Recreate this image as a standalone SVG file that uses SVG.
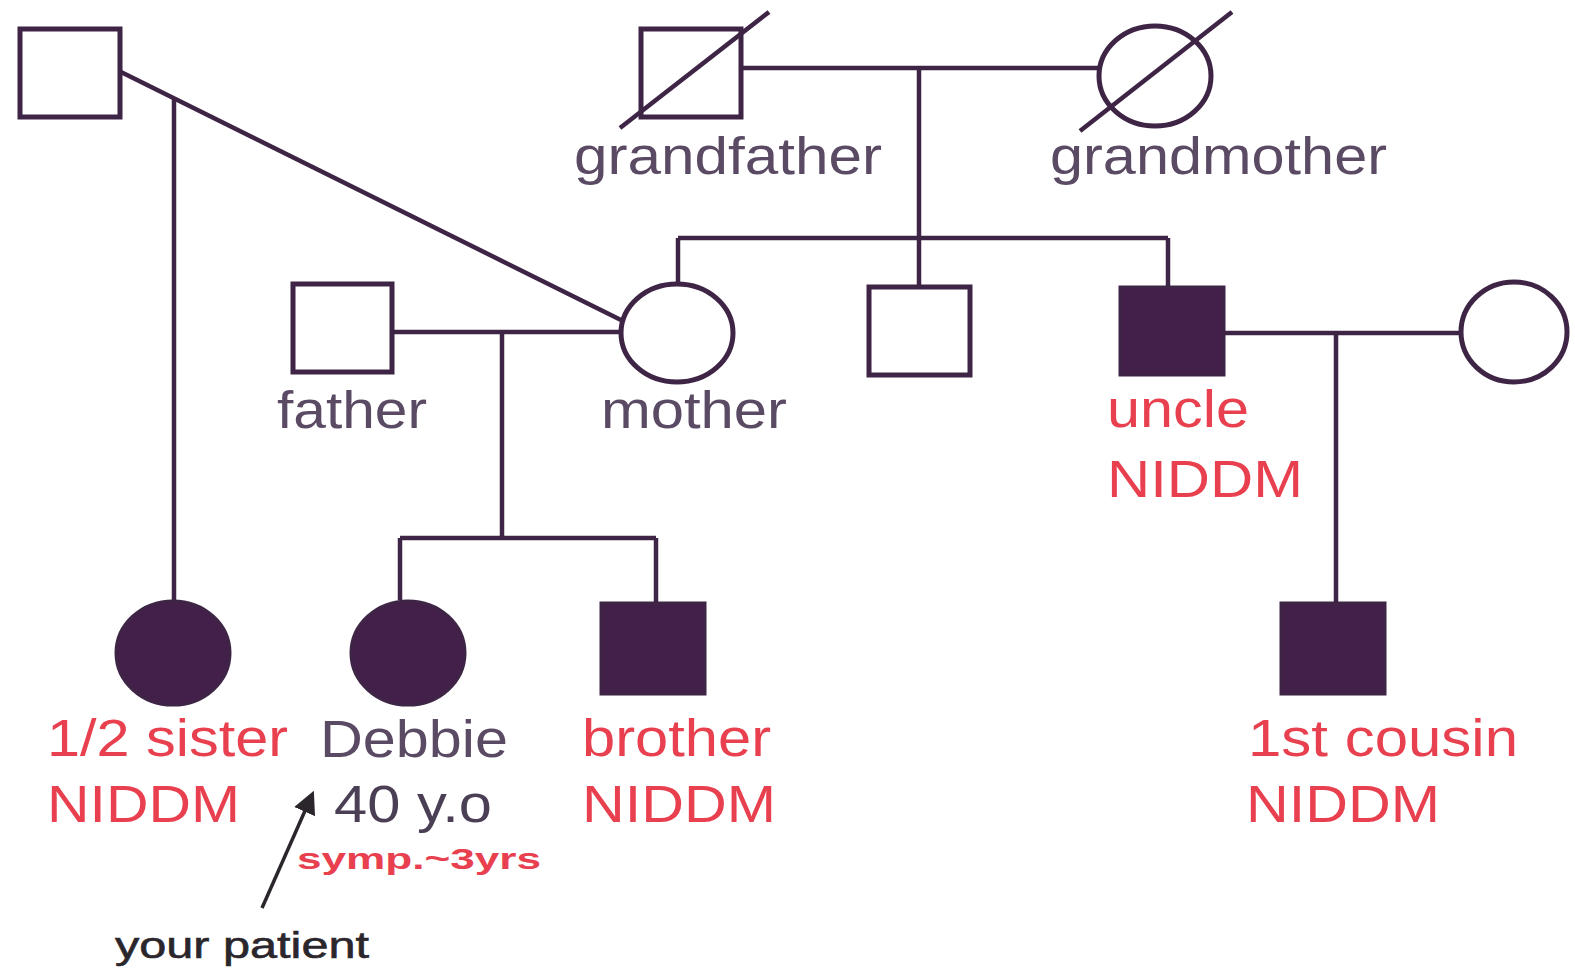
<svg xmlns="http://www.w3.org/2000/svg" width="1575" height="973" viewBox="0 0 1575 973">
  <style>
    .ln { stroke: #3e2445; stroke-width: 4.5; fill: none; stroke-linecap: butt; }
    .open { fill: #ffffff; stroke: #3e2445; stroke-width: 5; }
    .aff { fill: #43204a; stroke: #3e2445; stroke-width: 3; }
    .lbl { font-family: "Liberation Sans", Arial, sans-serif; font-size: 51px; }
    .gray { fill: #5a4a63; }
    .red { fill: #e8404f; }
    .small { font-family: "Liberation Sans", Arial, sans-serif; font-size: 30px; font-weight: bold; }
    .note { font-family: "Liberation Sans", Arial, sans-serif; font-size: 37px; fill: #2a262c; stroke: #2a262c; stroke-width: 0.6; }
  </style>
  <defs>
    <marker id="arrowhead" viewBox="0 0 10 10" refX="8" refY="5" markerWidth="6.5" markerHeight="6.5" orient="auto" markerUnits="strokeWidth">
      <path d="M0,0 L10,5 L0,10 z" fill="#2a262c"/>
    </marker>
  </defs>
  <rect width="1575" height="973" fill="#ffffff"/>

  <!-- connectors -->
  <g id="connectors" class="ln">
    <!-- grandparents couple line and descent -->
    <line x1="742" y1="68" x2="1098" y2="68"/>
    <line x1="919" y1="68" x2="919" y2="287"/>
    <line x1="678" y1="238" x2="1168" y2="238"/>
    <line x1="678" y1="238" x2="678" y2="283"/>
    <line x1="1168" y1="238" x2="1168" y2="287"/>
    <!-- first partner of mother -->
    <line x1="121" y1="72" x2="621" y2="320"/>
    <line x1="174" y1="97" x2="174" y2="600"/>
    <!-- father and mother -->
    <line x1="393" y1="332" x2="621" y2="332"/>
    <line x1="502" y1="332" x2="502" y2="538"/>
    <line x1="400" y1="538" x2="656" y2="538"/>
    <line x1="400" y1="538" x2="400" y2="600"/>
    <line x1="656" y1="538" x2="656" y2="603"/>
    <!-- uncle and wife -->
    <line x1="1225" y1="333" x2="1461" y2="333"/>
    <line x1="1336" y1="333" x2="1336" y2="602"/>
  </g>

  <!-- generation I -->
  <g id="grandfather">
    <rect class="open" x="641" y="29" width="100" height="88"/>
    <line class="ln" x1="620" y1="128" x2="769" y2="12"/>
    <text class="lbl gray" x="574" y="174" textLength="308" lengthAdjust="spacingAndGlyphs">grandfather</text>
  </g>
  <g id="grandmother">
    <ellipse class="open" cx="1155" cy="76" rx="56" ry="50"/>
    <line class="ln" x1="1080" y1="131" x2="1232" y2="12"/>
    <text class="lbl gray" x="1050" y="174" textLength="337" lengthAdjust="spacingAndGlyphs">grandmother</text>
  </g>

  <!-- generation II -->
  <g id="first-partner">
    <rect class="open" x="20" y="29" width="100" height="88"/>
  </g>
  <g id="father">
    <rect class="open" x="293" y="284" width="99" height="88"/>
    <text class="lbl gray" x="277" y="428" textLength="150" lengthAdjust="spacingAndGlyphs">father</text>
  </g>
  <g id="mother">
    <ellipse class="open" cx="677" cy="333" rx="56" ry="49"/>
    <text class="lbl gray" x="601" y="428" textLength="186" lengthAdjust="spacingAndGlyphs">mother</text>
  </g>
  <g id="middle-son">
    <rect class="open" x="869" y="287" width="101" height="88"/>
  </g>
  <g id="uncle">
    <rect class="aff" x="1120" y="287" width="104" height="88"/>
    <text class="lbl red" x="1107" y="427" textLength="142" lengthAdjust="spacingAndGlyphs">uncle</text>
    <text class="lbl red" x="1107" y="497" textLength="196" lengthAdjust="spacingAndGlyphs">NIDDM</text>
  </g>
  <g id="uncle-wife">
    <ellipse class="open" cx="1514" cy="332" rx="53" ry="50"/>
  </g>

  <!-- generation III -->
  <g id="half-sister">
    <ellipse class="aff" cx="173" cy="653" rx="57" ry="52"/>
    <text class="lbl red" x="47" y="756" textLength="241" lengthAdjust="spacingAndGlyphs">1/2 sister</text>
    <text class="lbl red" x="47" y="822" textLength="193" lengthAdjust="spacingAndGlyphs">NIDDM</text>
  </g>
  <g id="debbie">
    <ellipse class="aff" cx="408" cy="653" rx="57" ry="52"/>
    <text class="lbl gray" x="320" y="757" textLength="188" lengthAdjust="spacingAndGlyphs">Debbie</text>
    <text class="lbl" fill="#4a3f55" x="334" y="822" textLength="158" lengthAdjust="spacingAndGlyphs">40 y.o</text>
    <text class="small red" x="297" y="869" textLength="244" lengthAdjust="spacingAndGlyphs">symp.~3yrs</text>
  </g>
  <g id="brother">
    <rect class="aff" x="601" y="603" width="104" height="91"/>
    <text class="lbl red" x="582" y="756" textLength="189" lengthAdjust="spacingAndGlyphs">brother</text>
    <text class="lbl red" x="582" y="822" textLength="194" lengthAdjust="spacingAndGlyphs">NIDDM</text>
  </g>
  <g id="first-cousin">
    <rect class="aff" x="1281" y="603" width="104" height="91"/>
    <text class="lbl red" x="1248" y="756" textLength="270" lengthAdjust="spacingAndGlyphs">1st cousin</text>
    <text class="lbl red" x="1246" y="822" textLength="194" lengthAdjust="spacingAndGlyphs">NIDDM</text>
  </g>

  <!-- proband pointer -->
  <g id="proband-pointer">
    <line x1="262" y1="908" x2="312" y2="795" stroke="#2a262c" stroke-width="3.5" marker-end="url(#arrowhead)"/>
    <text class="note" x="115" y="958" textLength="254" lengthAdjust="spacingAndGlyphs">your patient</text>
  </g>
</svg>
